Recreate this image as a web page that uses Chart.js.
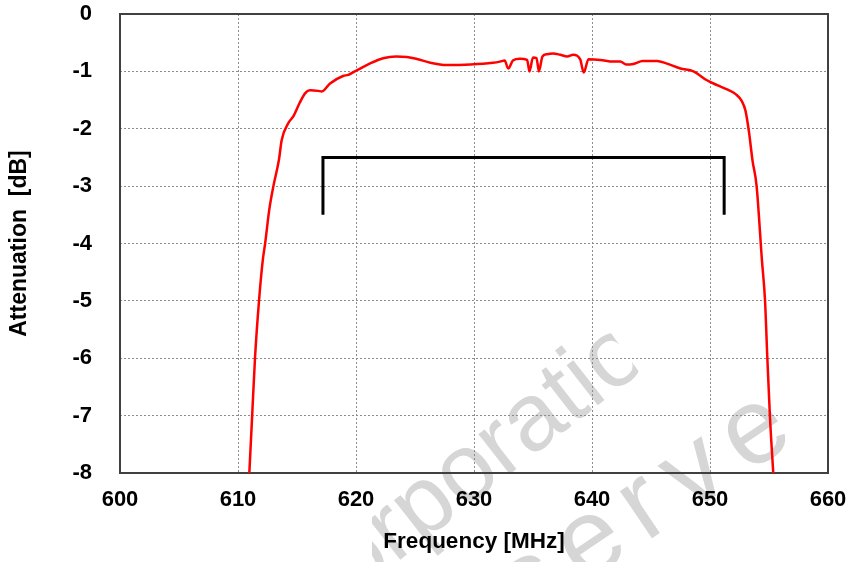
<!DOCTYPE html>
<html>
<head>
<meta charset="utf-8">
<script src="https://cdn.jsdelivr.net/npm/chart.js@4"></script>
<style>
  html, body { margin: 0; padding: 0; background: #fff; }
  #grafico { display: block; }
</style>
</head>
<body>
<canvas id="grafico" width="847" height="562"></canvas>
<script>
// Resposta do filtro: frequência (MHz) x atenuação (dB)
const freqMHz = [
  610.96, 611.2, 611.44, 611.78, 612.1, 612.3, 612.65, 613.0, 613.47, 613.7,
  614.27, 614.7, 615.2, 615.7, 616.1, 616.8, 617.1, 617.8, 618.9, 619.35,
  619.9, 621.2, 622.3, 623.4, 624.3, 625.1, 626.3, 627.7, 629.7, 631.6,
  632.2, 632.6, 632.9, 633.3, 633.9, 634.5, 634.7, 635.0, 635.3, 635.5,
  635.8, 636.2, 636.7, 637.3, 637.9, 638.4, 639.0, 639.3, 639.7, 640.7,
  641.8, 642.4, 642.9, 643.5, 644.3, 645.5, 646.3, 647.5, 648.6, 649.7,
  650.6, 651.5, 652.2, 652.7, 653.0, 653.3, 653.6, 653.95, 654.4, 654.66,
  654.86, 655.08, 655.36
];
const attenDB = [
  -8.0, -7.0, -6.0, -5.0, -4.29, -4.0, -3.41, -3.0, -2.54, -2.2,
  -1.9, -1.78, -1.56, -1.38, -1.33, -1.34, -1.35, -1.21, -1.08, -1.06,
  -1.0, -0.86, -0.77, -0.74, -0.75, -0.78, -0.85, -0.89, -0.88, -0.85,
  -0.83, -0.81, -0.95, -0.81, -0.78, -0.8, -1.0, -0.76, -0.77, -1.0,
  -0.74, -0.7, -0.69, -0.71, -0.74, -0.71, -0.79, -1.02, -0.79, -0.8,
  -0.83, -0.83, -0.88, -0.87, -0.82, -0.82, -0.86, -0.95, -1.0, -1.15,
  -1.24, -1.32, -1.4, -1.52, -1.68, -2.05, -2.55, -3.0, -4.29, -4.98,
  -6.0, -7.02, -8.0
];

// Colchete da faixa de passagem
const faixaFreq = [617.2, 617.2, 651.2, 651.2];
const faixaDB = [-3.5, -2.5, -2.5, -3.5];

// Ticks dos eixos
const ticksX = [600, 610, 620, 630, 640, 650, 660];
const ticksY = [0, -1, -2, -3, -4, -5, -6, -7, -8];

const fonte = 'Arial, "Liberation Sans", sans-serif';

// Marca d'água cinza clara, recortada
function escreverGirado(ctx, texto, idx, cx, cy, graus, espaco, tam) {
  ctx.save();
  ctx.font = tam + 'px ' + fonte;
  ctx.letterSpacing = espaco + 'px';
  const pre = ctx.measureText(texto.slice(0, idx)).width;
  const letra = ctx.measureText(texto[idx]).width - espaco;
  const lx = pre + letra / 2;
  const ly = -0.26 * tam;
  const a = graus * Math.PI / 180;
  const tx = cx - (lx * Math.cos(a) - ly * Math.sin(a));
  const ty = cy - (lx * Math.sin(a) + ly * Math.cos(a));
  ctx.translate(tx, ty);
  ctx.rotate(a);
  ctx.fillText(texto, 0, 0);
  ctx.restore();
}

const fundo = {
  id: 'fundo',
  beforeDraw(chart) {
    const ctx = chart.ctx;
    ctx.save();
    ctx.fillStyle = '#ffffff';
    ctx.fillRect(0, 0, chart.width, chart.height);
    ctx.beginPath();
    ctx.moveTo(372, 318);
    ctx.lineTo(600, 318);
    ctx.lineTo(650, 387);
    ctx.lineTo(786, 380);
    ctx.lineTo(786, 562);
    ctx.lineTo(372, 562);
    ctx.closePath();
    ctx.clip();
    ctx.fillStyle = '#d6d6d6';
    escreverGirado(ctx, 'Corporation', 4, 468, 475, -38, 0, 96);
    escreverGirado(ctx, 'Reserved', 3, 592, 545, -34, 16, 108);
    ctx.restore();
  }
};

// Moldura em volta da área do gráfico
const moldura = {
  id: 'moldura',
  beforeDatasetsDraw(chart) {
    const { ctx, chartArea: a } = chart;
    ctx.save();
    ctx.strokeStyle = '#404040';
    ctx.lineWidth = 2;
    ctx.strokeRect(a.left, a.top, a.right - a.left, a.bottom - a.top);
    ctx.restore();
  }
};

const pontosCurva = freqMHz.map((f, i) => ({ x: f, y: attenDB[i] }));
const pontosFaixa = faixaFreq.map((f, i) => ({ x: f, y: faixaDB[i] }));

// Tamanhos fixos dos eixos, sem folga extra para os rótulos
function fixarX(s) {
  s.height = 89;
  s.paddingLeft = 0;
  s.paddingRight = 0;
}
function fixarY(s) {
  s.width = 120;
  s.paddingTop = 0;
  s.paddingBottom = 0;
}

new Chart(document.getElementById('grafico'), {
  type: 'line',
  data: {
    datasets: [
      {
        data: pontosCurva,
        borderColor: '#ff0000',
        borderWidth: 2.5,
        pointRadius: 0,
        cubicInterpolationMode: 'monotone',
        fill: false
      },
      {
        data: pontosFaixa,
        borderColor: '#000000',
        borderWidth: 3,
        pointRadius: 0,
        tension: 0,
        borderJoinStyle: 'miter',
        borderCapStyle: 'butt',
        fill: false
      }
    ]
  },
  options: {
    responsive: false,
    devicePixelRatio: 1,
    animation: false,
    layout: { padding: { top: 14, right: 19, left: 0, bottom: 0 } },
    plugins: {
      legend: { display: false },
      tooltip: { enabled: false }
    },
    scales: {
      x: {
        type: 'linear',
        min: 600,
        max: 660,
        afterFit: fixarX,
        afterBuildTicks: s => { s.ticks = ticksX.map(v => ({ value: v })); },
        grid: { color: '#8c8c8c', lineWidth: 1, drawTicks: false },
        border: { display: false, dash: [2, 2] },
        ticks: {
          padding: 14,
          color: '#000',
          font: { family: fonte, size: 22, weight: 'bold' }
        },
        title: {
          display: true,
          text: 'Frequency [MHz]',
          color: '#000',
          font: { family: fonte, size: 22.5, weight: 'bold' },
          padding: { top: 0, bottom: 7 }
        }
      },
      y: {
        type: 'linear',
        min: -8,
        max: 0,
        afterFit: fixarY,
        afterBuildTicks: s => { s.ticks = ticksY.map(v => ({ value: v })); },
        grid: { color: '#8c8c8c', lineWidth: 1, drawTicks: false },
        border: { display: false, dash: [2, 2] },
        ticks: {
          padding: 28,
          color: '#000',
          font: { family: fonte, size: 22, weight: 'bold' }
        },
        title: {
          display: true,
          text: 'Attenuation  [dB]',
          color: '#000',
          font: { family: fonte, size: 23, weight: 'bold' },
          padding: { top: 6, bottom: 0 }
        }
      }
    }
  },
  plugins: [fundo, moldura]
});
</script>
</body>
</html>
